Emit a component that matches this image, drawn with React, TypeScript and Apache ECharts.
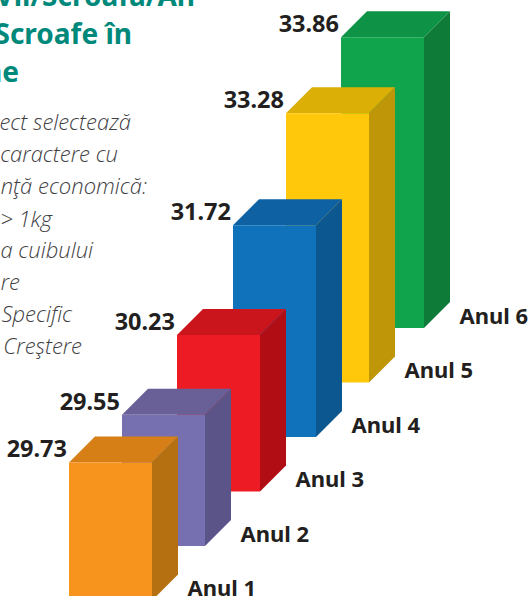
import React, { useEffect, useRef } from "react";
import * as echarts from "echarts";

const categories = ["Anul 1", "Anul 2", "Anul 3", "Anul 4", "Anul 5", "Anul 6"];
const values = [29.73, 29.55, 30.23, 31.72, 33.28, 33.86];
const frontColors = ["#F7941D", "#7670B0", "#ED1C24", "#0F72BA", "#FFC80A", "#10A44C"];
const topColors = ["#D67F16", "#686097", "#CB151C", "#0E62A4", "#DCAF06", "#0E9245"];
const sideColors = ["#B57011", "#5A5489", "#B00D14", "#0C5790", "#BE9608", "#0E7B38"];
const titleLines = ["Vii/Scroafă/An", "Scroafe în", "ne"];
const noteLines = ["ect selectează", "caractere cu", "nţă economică:", "> 1kg", "a cuibului", "re", "Specific", "Creştere"];

const titleRight = [195, 132, 19];
const titleY = [-5, 33, 71];
const noteRight = [131, 118, 147, 52, 93, 20, 72, 82];
const noteY = [121, 153, 185, 218, 249, 281, 313, 345];

const W = 529, H = 596;
const BAR_W = 83, DEPTH = 26, STAIR = 54.5, BASE_DROP = 4.5;
const GRID_LEFT = 83.3, BAND = 54.4, PX_PER_UNIT = 37, Y_MIN = 26, Y_MAX = 34;
const BAR_NUDGE = [0, -1.4, -0.8, 0.8, -0.6, 0];

const TEXT_FONT = "'Noto Sans', sans-serif";
const NOTE_FONT = "'Open Sans', sans-serif";

function renderBar(params: any, api: any) {
  const i = api.value(0);
  const value = api.value(1);
  const center = api.coord([i, Y_MIN])[0];
  const axisY = api.coord([i, Y_MIN])[1];
  const valueY = api.coord([i, value])[1];
  const shift = BASE_DROP - i * STAIR;
  const l = center - BAR_W / 2 + BAR_NUDGE[i];
  const r = l + BAR_W;
  const b = axisY + shift;
  const t = valueY + shift;
  return {
    type: "group",
    children: [
      { type: "polygon", shape: { points: [[r, t], [r + DEPTH, t - DEPTH], [r + DEPTH, b - DEPTH], [r, b]] }, style: { fill: sideColors[i] } },
      { type: "polygon", shape: { points: [[l, t], [l + DEPTH, t - DEPTH], [r + DEPTH, t - DEPTH], [r, t]] }, style: { fill: topColors[i] } },
      { type: "rect", shape: { x: l, y: t, width: BAR_W, height: b - t }, style: { fill: frontColors[i] } },
      { type: "text", style: { x: l - 2, y: t - 14, text: value.toFixed(2), align: "right", verticalAlign: "middle", fill: "#231F20", font: `700 23.5px ${TEXT_FONT}` } },
      { type: "text", style: { x: r + DEPTH + 9.5, y: b - DEPTH + 12.5, text: categories[i], align: "left", verticalAlign: "middle", fill: "#231F20", font: `700 22px ${TEXT_FONT}` } },
    ],
  };
}

export default function App() {
  const ref = useRef<HTMLDivElement>(null);
  useEffect(() => {
    const chart = echarts.init(ref.current!, null, { renderer: "svg", width: W, height: H });
    const order = categories.map((_, i) => i).reverse();
    const plotHeight = (Y_MAX - Y_MIN) * PX_PER_UNIT;
    chart.setOption({
      animation: false,
      backgroundColor: "#ffffff",
      grid: { left: GRID_LEFT, width: BAND * categories.length, top: H - plotHeight, height: plotHeight },
      xAxis: { type: "category", data: categories, show: false },
      yAxis: { type: "value", min: Y_MIN, max: Y_MAX, show: false },
      graphic: [
        ...titleLines.map((t, i) => ({
          type: "text", x: titleRight[i], y: titleY[i],
          style: { text: t, align: "right", verticalAlign: "middle", fill: "#00897B", font: `700 28px ${TEXT_FONT}` },
        })),
        ...noteLines.map((t, i) => ({
          type: "text", x: noteRight[i], y: noteY[i],
          style: { text: t, align: "right", verticalAlign: "middle", fill: "#414042", font: `italic 300 22px ${NOTE_FONT}` },
        })),
      ],
      series: [{
        type: "custom",
        coordinateSystem: "cartesian2d",
        clip: false,
        renderItem: renderBar,
        encode: { x: 0, y: 1 },
        data: order.map((i) => [i, values[i]]),
      }],
    });
    return () => chart.dispose();
  }, []);
  return <div ref={ref} style={{ position: "fixed", left: 0, top: 0, width: W, height: H }} />;
}
